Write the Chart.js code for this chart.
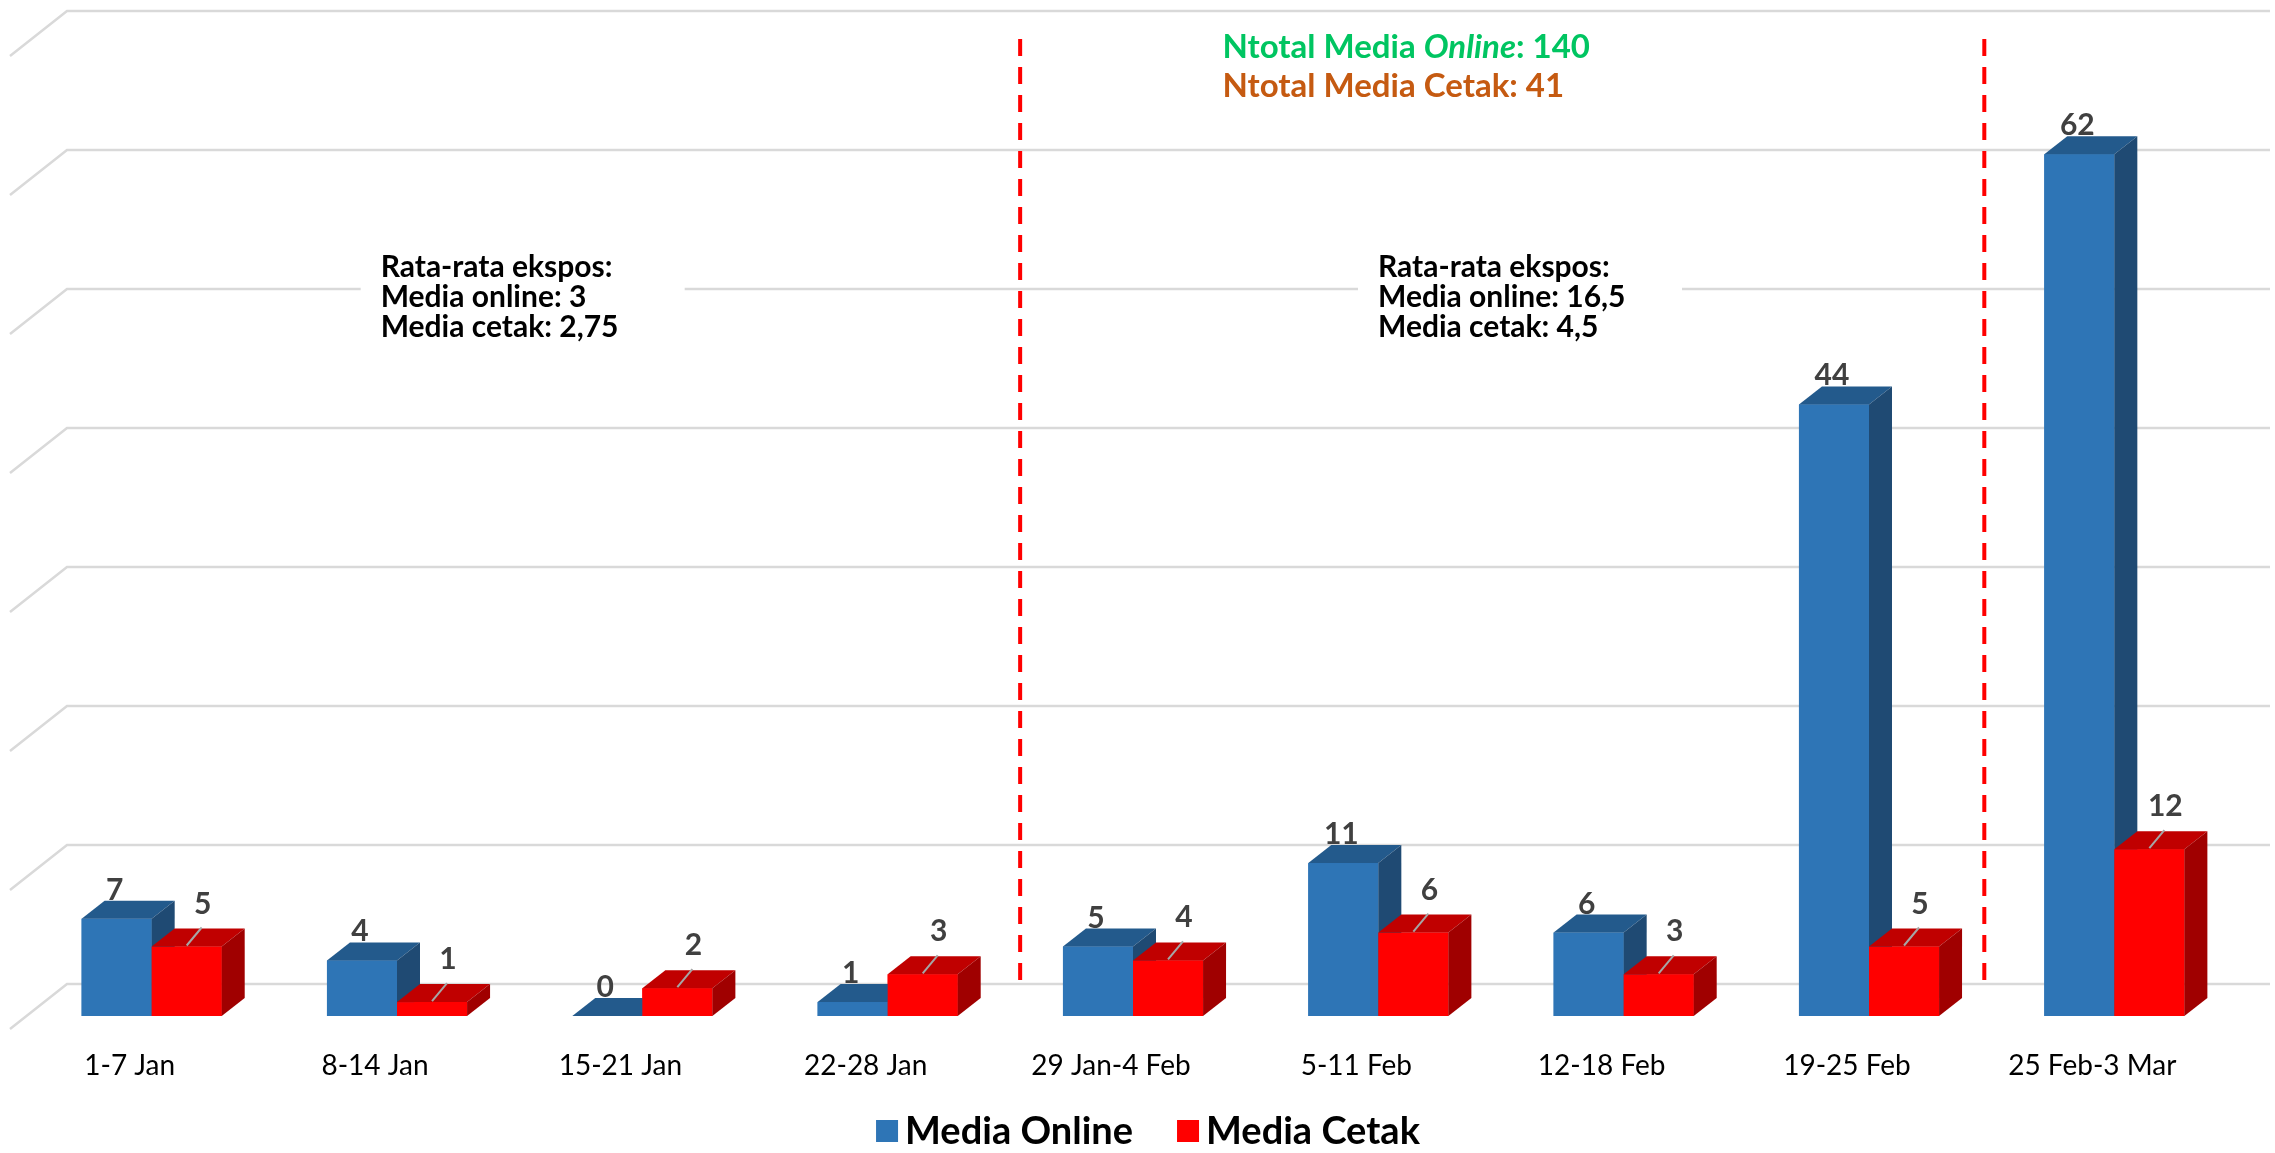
<!DOCTYPE html>
<html lang="id">
<head>
    <meta charset="UTF-8">
    <title>Ekspos Media Online dan Cetak</title>
    <script src="https://cdn.jsdelivr.net/npm/chart.js"></script>
    <style>
        body { margin: 0; background: #ffffff; }
        canvas { display: block; }
    </style>
</head>
<body>
    <canvas id="eksposChart" width="2275" height="1153"></canvas>

    <script>
        // Data per minggu
        const categories = ['1-7 Jan', '8-14 Jan', '15-21 Jan', '22-28 Jan', '29 Jan-4 Feb', '5-11 Feb', '12-18 Feb', '19-25 Feb', '25 Feb-3 Mar'];
        const mediaOnline = [7, 4, 0, 1, 5, 11, 6, 44, 62];
        const mediaCetak = [5, 1, 2, 3, 4, 6, 3, 5, 12];
        const yTicks = [0, 10, 20, 30, 40, 50, 60, 70];

        const FONT = 'Lato, "Open Sans", sans-serif';
        // warna muka depan / atas / samping
        const faces = [
            { front: '#2E75B6', top: '#235A8C', side: '#1F4A73' },
            { front: '#FF0000', top: '#C00000', side: '#A00000' }
        ];
        const DX = 23, DY = 18;        // kedalaman batang
        const WALL_DY = 32;            // dinding belakang

        // grid 3D + garis putus-putus + teks keterangan
        const backdrop = {
            id: 'backdrop',
            beforeDatasetsDraw(chart) {
                const { ctx, chartArea, scales: { x, y } } = chart;
                ctx.save();
                ctx.strokeStyle = '#D9D9D9';
                ctx.lineWidth = 2.5;
                yTicks.forEach(v => {
                    const yb = y.getPixelForValue(v) - WALL_DY;
                    ctx.beginPath();
                    ctx.moveTo(chartArea.left - 19, yb + 45);
                    ctx.lineTo(chartArea.left + 38, yb);
                    ctx.lineTo(chartArea.right + 33, yb);
                    ctx.stroke();
                });

                // kotak teks rata-rata
                const boxes = [
                    { x0: x.getPixelForValue(1.5) - 159, lines: ['Rata-rata ekspos:', 'Media online: 3', 'Media cetak: 2,75'] },
                    { x0: x.getPixelForValue(5.5) - 143, lines: ['Rata-rata ekspos:', 'Media online: 16,5', 'Media cetak: 4,5'] }
                ];
                boxes.forEach(b => {
                    ctx.fillStyle = '#ffffff';
                    ctx.fillRect(b.x0, 248, 324, 100);
                    ctx.fillStyle = '#000000';
                    ctx.font = 'bold 30px ' + FONT;
                    ctx.textAlign = 'left';
                    ctx.textBaseline = 'alphabetic';
                    b.lines.forEach((t, i) => ctx.fillText(t, b.x0 + 20, 277 + i * 30));
                });

                // garis pemisah periode
                ctx.strokeStyle = '#FF0000';
                ctx.lineWidth = 4;
                ctx.setLineDash([17, 11]);
                [3.54, 7.47].forEach(p => {
                    const px = x.getPixelForValue(p);
                    ctx.beginPath();
                    ctx.moveTo(px, y.getPixelForValue(70) - 4);
                    ctx.lineTo(px, y.getPixelForValue(0) - 29);
                    ctx.stroke();
                });
                ctx.setLineDash([]);

                // total
                const tx0 = x.getPixelForValue(4.365);
                let tx = tx0;
                ctx.textAlign = 'left';
                ctx.fillStyle = '#00C561';
                const parts = [['bold ', 'Ntotal Media '], ['italic bold ', 'Online'], ['bold ', ': 140']];
                parts.forEach(([st, t]) => {
                    ctx.font = st + '33px ' + FONT;
                    ctx.fillText(t, tx, 58);
                    tx += ctx.measureText(t).width;
                });
                ctx.fillStyle = '#C55A11';
                ctx.font = 'bold 33px ' + FONT;
                ctx.fillText('Ntotal Media Cetak: 41', tx0, 97);
                ctx.restore();
            },
            afterDatasetsDraw(chart) {
                const { ctx } = chart;
                const metas = [chart.getDatasetMeta(0), chart.getDatasetMeta(1)];
                ctx.save();
                categories.forEach((c, i) => {
                    metas.forEach((meta, d) => {
                        const bar = meta.data[i];
                        const l = bar.x - bar.width / 2, r = bar.x + bar.width / 2;
                        const t = bar.y, b = bar.base;
                        const f = faces[d];
                        ctx.fillStyle = f.front;
                        ctx.fillRect(l, t, r - l, b - t);
                        ctx.fillStyle = f.top;
                        ctx.beginPath();
                        ctx.moveTo(l, t); ctx.lineTo(r, t); ctx.lineTo(r + DX, t - DY); ctx.lineTo(l + DX, t - DY);
                        ctx.closePath(); ctx.fill();
                        ctx.fillStyle = f.side;
                        ctx.beginPath();
                        ctx.moveTo(r, t); ctx.lineTo(r + DX, t - DY); ctx.lineTo(r + DX, b - DY); ctx.lineTo(r, b);
                        ctx.closePath(); ctx.fill();
                    });
                });

                // label nilai
                ctx.font = 'bold 30px ' + FONT;
                ctx.fillStyle = '#404040';
                ctx.textAlign = 'center';
                ctx.textBaseline = 'alphabetic';
                metas.forEach((meta, d) => {
                    const values = d === 0 ? mediaOnline : mediaCetak;
                    meta.data.forEach((bar, i) => {
                        if (d === 0) {
                            ctx.fillText(values[i], bar.x - 2, bar.y - 19);
                        } else {
                            ctx.strokeStyle = '#A6A6A6';
                            ctx.lineWidth = 2;
                            ctx.beginPath();
                            ctx.moveTo(bar.x, bar.y - 1);
                            ctx.lineTo(bar.x + 15, bar.y - 19);
                            ctx.stroke();
                            ctx.fillText(values[i], bar.x + 16, bar.y - 33);
                        }
                    });
                });
                ctx.restore();
            },
            // legenda di bawah
            afterDraw(chart) {
                const { ctx, chartArea } = chart;
                ctx.save();
                ctx.font = 'bold 38px ' + FONT;
                ctx.textBaseline = 'middle';
                ctx.textAlign = 'left';
                const box = 22, gap = 7, itemGap = 44;
                const items = chart.data.datasets.map(ds => ({ text: ds.label, color: ds.backgroundColor }));
                const widths = items.map(it => box + gap + ctx.measureText(it.text).width);
                const total = widths.reduce((a, b) => a + b, 0) + itemGap * (items.length - 1);
                let lx = (chartArea.left + chartArea.right) / 2 + 15 - total / 2;
                const ly = 1131;
                items.forEach((it, i) => {
                    ctx.fillStyle = it.color;
                    ctx.fillRect(lx, ly - box / 2, box, box);
                    ctx.fillStyle = '#000000';
                    ctx.fillText(it.text, lx + box + gap, ly + 1);
                    lx += widths[i] + itemGap;
                });
                ctx.restore();
            }
        };

        const chart = new Chart(document.getElementById('eksposChart'), {
            type: 'bar',
            data: {
                labels: categories,
                datasets: [
                    { label: 'Media Online', data: mediaOnline, backgroundColor: faces[0].front },
                    { label: 'Media Cetak', data: mediaCetak, backgroundColor: faces[1].front }
                ]
            },
            options: {
                responsive: false,
                animation: false,
                devicePixelRatio: 1,
                layout: { padding: { left: 29, right: 38, top: 43, bottom: 60 } },
                datasets: { bar: { categoryPercentage: 0.571, barPercentage: 1 } },
                scales: {
                    y: { display: false, min: 0, max: 70 },
                    x: {
                        grid: { display: false, drawTicks: false },
                        border: { display: false },
                        afterFit: (axis) => { axis.height = 77; },
                        ticks: {
                            font: { family: FONT, size: 28 },
                            color: '#000000',
                            labelOffset: -22,
                            padding: 33,
                            maxRotation: 0,
                            autoSkip: false
                        }
                    }
                },
                plugins: {
                    tooltip: { enabled: false },
                    legend: { display: false }
                }
            },
            plugins: [backdrop]
        });
    </script>
</body>
</html>
